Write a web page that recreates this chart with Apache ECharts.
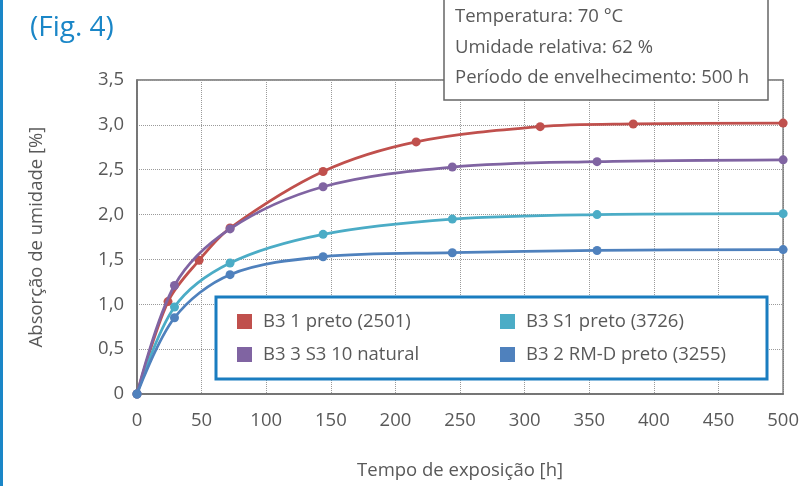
<!DOCTYPE html>
<html>
<head>
<meta charset="utf-8">
<script src="https://cdn.jsdelivr.net/npm/echarts@6/dist/echarts.min.js"></script>
<style>html,body{margin:0;padding:0;background:#fff}#c{width:802px;height:486px}</style>
</head>
<body>
<div id="c"></div>
<script>
// Data
const seriesNames = ['B3 1 preto (2501)', 'B3 S1 preto (3726)', 'B3 3 S3 10 natural', 'B3 2 RM-D preto (3255)'];
const redX = [0, 24, 48, 72, 144, 216, 312, 384, 500];
const redY = [0, 1.03, 1.49, 1.85, 2.48, 2.81, 2.98, 3.01, 3.02];
const cyanX = [0, 29, 72, 144, 244, 356, 500];
const cyanY = [0, 0.97, 1.46, 1.78, 1.95, 2.00, 2.01];
const purpleX = [0, 29, 72, 144, 244, 356, 500];
const purpleY = [0, 1.21, 1.84, 2.31, 2.53, 2.59, 2.61];
const blueX = [0, 29, 72, 144, 244, 356, 500];
const blueY = [0, 0.85, 1.33, 1.53, 1.575, 1.60, 1.61];
const infoLines = ['Temperatura: 70 °C', 'Umidade relativa: 62 %', 'Período de envelhecimento: 500 h'];
const figTitle = '(Fig. 4)';
const xName = 'Tempo de exposição [h]';
const yName = 'Absorção de umidade [%]';

const FONT = '"Open Sans", "Noto Sans", sans-serif';
const TXT = '#595959';
const FS = 18.5;
const colors = ['#c0504d', '#4bacc6', '#8064a2', '#4f81bd'];
const pair = (xs, ys) => xs.map((x, i) => [x, ys[i]]);
const datas = [pair(redX, redY), pair(cyanX, cyanY), pair(purpleX, purpleY), pair(blueX, blueY)];

const chart = echarts.init(document.getElementById('c'), null, {renderer: 'canvas'});
const legendText = {color: TXT, fontSize: FS, fontFamily: FONT, padding: [0, 0, 0, 6]};
chart.setOption({
  animation: false,
  title: {text: figTitle, left: 25, top: 9, textStyle: {color: '#1a86c7', fontSize: 28, fontWeight: 'normal', fontFamily: FONT}},
  grid: {left: 137, right: 17, top: 80, bottom: 92, show: true, borderColor: '#6e6e6e', borderWidth: 1.5, backgroundColor: 'transparent'},
  xAxis: {
    type: 'value', min: 0, max: 500, interval: 50,
    name: xName, nameLocation: 'middle', nameGap: 67,
    nameTextStyle: {color: TXT, fontSize: FS, fontFamily: FONT},
    axisLine: {show: true, lineStyle: {color: '#6e6e6e', width: 1.5}},
    axisTick: {show: false},
    axisLabel: {color: TXT, fontSize: FS, fontFamily: FONT, margin: 17},
    splitLine: {show: true, lineStyle: {color: '#9a9a9a', type: 'dotted', width: 1}}
  },
  yAxis: {
    type: 'value', min: 0, max: 3.5, interval: 0.5,
    name: yName, nameLocation: 'middle', nameGap: 91,
    nameTextStyle: {color: TXT, fontSize: FS, fontFamily: FONT},
    axisLine: {show: true, lineStyle: {color: '#6e6e6e', width: 1.5}},
    axisTick: {show: false},
    axisLabel: {color: TXT, fontSize: FS, fontFamily: FONT, margin: 13,
      formatter: v => v === 0 ? '0' : v.toFixed(1).replace('.', ',')},
    splitLine: {show: true, lineStyle: {color: '#9a9a9a', type: 'dotted', width: 1}}
  },
  legend: [
    {data: [seriesNames[0], seriesNames[2]], orient: 'vertical', left: 232, top: 307, icon: 'rect', itemWidth: 15, itemHeight: 15, itemGap: 14, textStyle: legendText, z: 20},
    {data: [seriesNames[1], seriesNames[3]], orient: 'vertical', left: 495, top: 307, icon: 'rect', itemWidth: 15, itemHeight: 15, itemGap: 14, textStyle: legendText, z: 20}
  ],
  graphic: [
    {type: 'rect', left: 0, top: 0, shape: {width: 3, height: 486}, style: {fill: '#1a86c7'}, z: 50},
    {type: 'rect', shape: {x: 216, y: 297, width: 551, height: 82}, style: {fill: '#fff', stroke: '#1a7dc0', lineWidth: 3}, z: 10},
    {type: 'rect', shape: {x: 444, y: -5, width: 324, height: 105}, style: {fill: '#fff', stroke: '#666', lineWidth: 1.5}, z: 10},
    {type: 'text', x: 455, y: 17, style: {text: infoLines[0], fill: TXT, fontSize: FS, fontFamily: FONT, verticalAlign: 'middle'}, z: 11},
    {type: 'text', x: 455, y: 48, style: {text: infoLines[1], fill: TXT, fontSize: FS, fontFamily: FONT, verticalAlign: 'middle'}, z: 11},
    {type: 'text', x: 455, y: 78, style: {text: infoLines[2], fill: TXT, fontSize: FS, fontFamily: FONT, verticalAlign: 'middle'}, z: 11}
  ],
  series: datas.map((d, i) => ({
    name: seriesNames[i], type: 'line', data: d, smooth: 0.33,
    symbol: 'circle', symbolSize: 9, showSymbol: true,
    lineStyle: {color: colors[i], width: 2.8},
    itemStyle: {color: colors[i]},
    z: 2 + i
  }))
});
</script>
</body>
</html>
